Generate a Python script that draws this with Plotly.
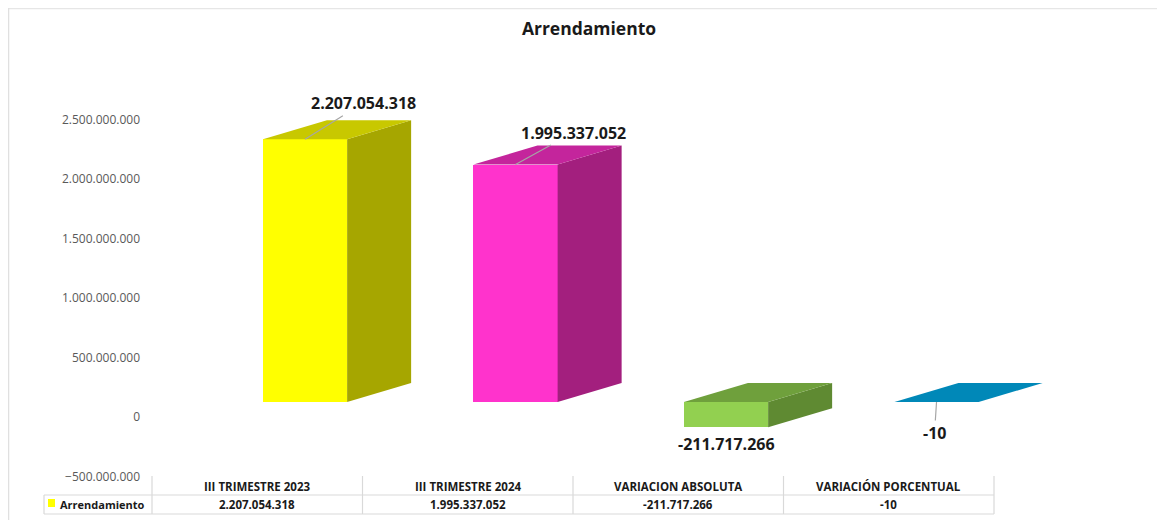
import plotly.graph_objects as go

# ---------------- data ----------------
categories = ["III TRIMESTRE 2023", "III TRIMESTRE 2024", "VARIACION ABSOLUTA", "VARIACIÓN PORCENTUAL"]
values = [2207054318, 1995337052, -211717266, -10]
series_name = "Arrendamiento"
tick_values = [-500000000, 0, 500000000, 1000000000, 1500000000, 2000000000, 2500000000]

front_colors = ["#FFFF00", "#FF33CC", "#92D050", "#0088B8"]
side_colors = ["#A6A600", "#A31F7E", "#5F8A32", "#006A90"]
top_colors = ["#C8C800", "#C4259C", "#6FA03C", "#0088B8"]

# ---------------- layout geometry ----------------
PAGE_OFF = 8                    # browser body margin
W, H = 1165 - PAGE_OFF, 526 - PAGE_OFF
PX_PER_UNIT_Y = 119e-9          # pixels per value unit
AXIS_ZERO_PX = 417              # page row where the axis label 0 sits
FRONT_ZERO_PX = 402             # page row of the front face zero
X0_PX, CAT_PX = 152, 210.5      # page x of first category left edge, category width
BAR_OFF, BAR_W = 0.027, 0.4
DEPTH_X = 64 / CAT_PX
DEPTH_Y = 19 / PX_PER_UNIT_Y


def px(x):
    return (x - PAGE_OFF) / W


def py(y):
    return 1 - (y - PAGE_OFF) / H


def fmt(v):
    return f"{v:,}".replace(",", ".")


x_range = [-(X0_PX - PAGE_OFF) / CAT_PX - 0.5, (W + PAGE_OFF - X0_PX) / CAT_PX - 0.5]
y_range = [(AXIS_ZERO_PX - 526) / PX_PER_UNIT_Y, (AXIS_ZERO_PX - PAGE_OFF) / PX_PER_UNIT_Y]
y2_range = [(FRONT_ZERO_PX - 526) / PX_PER_UNIT_Y, (FRONT_ZERO_PX - PAGE_OFF) / PX_PER_UNIT_Y]

idx = list(range(len(categories)))

fig = go.Figure()

# invisible anchor trace so the labelled value axis is drawn
fig.add_trace(go.Scatter(x=[idx[0]], y=[0], mode="markers", marker=dict(opacity=0),
                         hoverinfo="skip", showlegend=False, yaxis="y"))

# front faces
fig.add_trace(go.Bar(
    x=idx, y=values, width=BAR_W, offset=BAR_OFF,
    marker=dict(color=front_colors, line=dict(width=0)),
    yaxis="y2", name=series_name, showlegend=False,
    customdata=categories, hovertemplate="%{customdata}: %{y:,}<extra></extra>",
))

# 3D side and top faces, derived from the values
for i, v in enumerate(values):
    top = max(v, 0)
    bot = min(v, 0)
    xl = i + BAR_OFF
    xr = xl + BAR_W
    if top - bot > 1000:
        fig.add_trace(go.Scatter(
            x=[xr, xr + DEPTH_X, xr + DEPTH_X, xr, xr],
            y=[top, top + DEPTH_Y, bot + DEPTH_Y, bot, top],
            mode="lines", fill="toself", fillcolor=side_colors[i],
            line=dict(width=0, color=side_colors[i]), yaxis="y2",
            hoverinfo="skip", showlegend=False,
        ))
    fig.add_trace(go.Scatter(
        x=[xl, xr, xr + DEPTH_X, xl + DEPTH_X, xl],
        y=[top, top, top + DEPTH_Y, top + DEPTH_Y, top],
        mode="lines", fill="toself", fillcolor=top_colors[i],
        line=dict(width=0, color=top_colors[i]), yaxis="y2",
        hoverinfo="skip", showlegend=False,
    ))

annotations = []
label_font = dict(family="Open Sans", size=16, color="#1A1A1A")
label_offsets = [(58, -36), (58, -32), None, (-2, 31)]
for i, v in enumerate(values):
    xc = i + BAR_OFF + BAR_W / 2
    off = label_offsets[i]
    if off is None:
        annotations.append(dict(
            x=xc, y=v, xref="x", yref="y2", text=f"<b>{fmt(v)}</b>",
            showarrow=False, yshift=-17, font=label_font,
        ))
    else:
        annotations.append(dict(
            x=xc, y=max(v, 0), xref="x", yref="y2",
            text=f"<b>{fmt(v)}</b>", showarrow=True, arrowhead=0,
            arrowwidth=1.2, arrowcolor="#A6A6A6", ax=off[0], ay=off[1],
            font=label_font, standoff=0,
        ))

# data table
shapes = []
line_c = "#D9D9D9"
for b in [-0.5, 0.5, 1.5, 2.5, 3.5]:
    shapes.append(dict(type="line", xref="x", yref="paper", x0=b, x1=b,
                       y0=py(476), y1=py(514), line=dict(color=line_c, width=1.2)))
for yy in [495, 514]:
    shapes.append(dict(type="line", xref="paper", yref="paper", x0=px(44), x1=px(994),
                       y0=py(yy), y1=py(yy), line=dict(color=line_c, width=1.2)))
shapes.append(dict(type="line", xref="paper", yref="paper", x0=px(44), x1=px(44),
                   y0=py(495), y1=py(514), line=dict(color=line_c, width=1.2)))
# legend key
shapes.append(dict(type="rect", xref="paper", yref="paper", x0=px(48), x1=px(55),
                   y0=py(507), y1=py(499), fillcolor=front_colors[0], line=dict(width=0)))
# chart border
shapes.append(dict(type="line", xref="paper", yref="paper", x0=px(8), x1=1,
                   y0=py(8.5), y1=py(8.5), line=dict(color="#E6E6E6", width=1.5)))
shapes.append(dict(type="line", xref="paper", yref="paper", x0=px(8.5), x1=px(8.5),
                   y0=py(8), y1=py(520), line=dict(color="#E0E0E0", width=1.5)))

table_font = dict(family="Open Sans", size=11.5, color="#1A1A1A")
for i, c in enumerate(categories):
    annotations.append(dict(x=i, y=py(486), xref="x", yref="paper", text=f"<b>{c}</b>",
                            showarrow=False, font=table_font, yanchor="middle"))
    annotations.append(dict(x=i, y=py(504), xref="x", yref="paper", text=f"<b>{fmt(values[i])}</b>",
                            showarrow=False, font=table_font, yanchor="middle"))
annotations.append(dict(x=px(58), y=py(504), xref="paper", yref="paper", text=f"<b>{series_name}</b>",
                        showarrow=False, font=dict(family="Open Sans", size=11, color="#1A1A1A"),
                        xanchor="left", yanchor="middle"))

fig.update_layout(
    width=W, height=H, autosize=False,
    margin=dict(l=0, r=0, t=0, b=0),
    paper_bgcolor="white", plot_bgcolor="rgba(0,0,0,0)",
    separators=",.",
    title=dict(text="<b>Arrendamiento</b>", x=px(589), xanchor="center",
               y=py(29), yanchor="middle",
               font=dict(family="Open Sans", size=17.5, color="#1A1A1A")),
    xaxis=dict(domain=[0, 1], range=x_range, showticklabels=False, showgrid=False,
               zeroline=False, showline=False, fixedrange=True),
    yaxis=dict(domain=[0, 1], range=y_range, anchor="free", position=px(X0_PX),
               tickvals=tick_values, tickformat=",d", showgrid=False, zeroline=False,
               showline=False, ticks="", ticklabelstandoff=12,
               tickfont=dict(family="Open Sans", size=12, color="#595959")),
    yaxis2=dict(domain=[0, 1], range=y2_range, overlaying="y", visible=False),
    bargap=0, barmode="overlay",
    shapes=shapes, annotations=annotations,
)

fig.write_html("out.html")
